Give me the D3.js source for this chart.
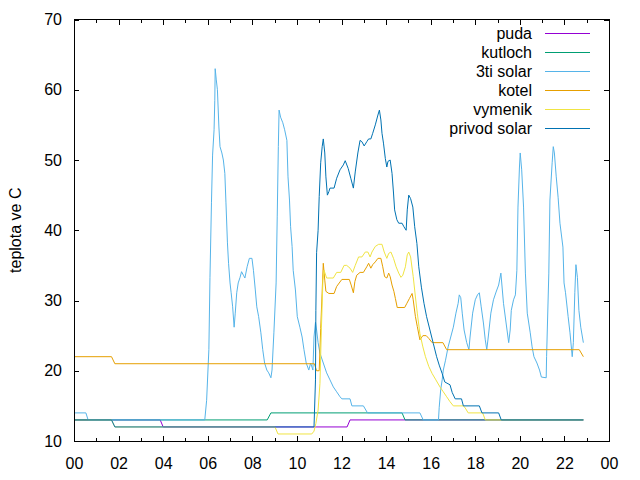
<!DOCTYPE html>
<html>
<head>
<meta charset="utf-8">
<script src="https://cdn.jsdelivr.net/npm/d3@7"></script>
<style>
body { margin: 0; background: #fff; }
text { font-family: "Liberation Sans", Arial, sans-serif; font-size: 16px; fill: #000; }
</style>
</head>
<body>
<div id="chart"></div>
<script>
// jmena serii (poradi = poradi kresleni)
const seriesNames = ["puda", "kutloch", "3ti solar", "kotel", "vymenik", "privod solar"];
const yTicks = [10, 20, 30, 40, 50, 60, 70];

// [cas, teplota]
const puda = [["00:00",13],["03:52",13],["04:00",12],["12:15",12],["12:23",13],["22:51",13]];

const kutloch = [["00:00",13],["08:40",13],["08:50",14],["14:43",14],["14:51",13],["22:51",13]];

const tretiSolar = [["00:00",14],["00:32",14],["00:38",13],["05:52",13],["05:57",15.8],["06:03",23],
  ["06:06",33.3],["06:10",43.9],["06:13",50.7],["06:17",54.3],["06:19",58.5],["06:20",63],["06:23",61.4],
  ["06:26",60],["06:30",54.7],["06:33",51.9],["06:38",51],["06:42",50],["06:46",48.1],["06:49",43.9],
  ["06:53",38.2],["06:56",35.3],["07:00",32.5],["07:03",31.1],["07:07",29.1],["07:11",26.2],["07:14",28.2],
  ["07:18",31.1],["07:22",32.5],["07:27",33.3],["07:31",34.1],["07:36",33.6],["07:40",33.2],["07:46",34.8],
  ["07:52",36],["07:59",36],["08:03",34.3],["08:08",31.5],["08:12",29.1],["08:17",27.7],["08:23",25.4],
  ["08:28",23],["08:33",21.1],["08:39",20.1],["08:44",19.7],["08:50",19],["08:53",20.1],["08:58",25.4],
  ["09:04",32.5],["09:07",41.9],["09:10",51.9],["09:12",57.1],["09:16",56.1],["09:22",55.3],["09:27",54.3],
  ["09:33",52.8],["09:36",47.6],["09:40",44.3],["09:43",40.5],["09:47",37.7],["09:50",34.3],["09:56",31.5],
  ["10:01",27.7],["10:08",26.2],["10:14",24.8],["10:19",23],["10:25",21.1],["10:32",20.1],["10:37",21.1],
  ["10:43",20.1],["10:46",24.8],["10:50",26.9],["10:53",25.8],["10:57",24],["11:02",22.5],["11:11",21.1],
  ["11:20",19.7],["11:29",18.7],["11:38",17.7],["11:47",17],["11:56",16.3],["12:01",16],["12:23",16],
  ["12:28",15],["12:59",15],["13:10",14],["15:31",14],["15:40",13],["16:21",13],["16:23",14.8],["16:27",17.3],
  ["16:31",18.7],["16:34",20.1],["16:40",21.5],["16:47",23.4],["16:54",24.8],["17:01",26.2],["17:08",28.2],
  ["17:14",29.6],["17:17",30.8],["17:21",30.4],["17:25",28.2],["17:30",25.8],["17:37",24],["17:43",23],
  ["17:46",24.8],["17:53",28.2],["18:00",30.1],["18:06",30.8],["18:11",31.1],["18:16",29.1],["18:22",26.8],
  ["18:27",24.4],["18:31",23],["18:35",24.8],["18:42",28.2],["18:49",30.1],["18:56",31.2],["19:03",32.2],
  ["19:09",33.9],["19:16",29.6],["19:23",26.8],["19:30",24],["19:34",25.8],["19:37",28.6],["19:43",30.1],
  ["19:48",30.8],["19:52",34.3],["19:55",43.3],["19:59",49],["20:01",51],["20:05",48.6],["20:10",43.3],
  ["20:15",33.9],["20:20",28.2],["20:28",25.4],["20:33",23.4],["20:38",22],["20:46",21.1],["20:53",20.1],
  ["20:58",19.1],["21:11",19],["21:12",22],["21:18",33.9],["21:21",44.3],["21:27",49.6],["21:30",51.9],
  ["21:33",51],["21:38",47.6],["21:43",44.7],["21:48",41],["21:56",37.6],["21:59",32.5],["22:03",31.1],
  ["22:10",27.7],["22:15",25.4],["22:21",22],["22:24",24],["22:28",31.1],["22:31",35.1],["22:35",33.3],
  ["22:39",28.6],["22:44",26.2],["22:51",24]];

const kotel = [["00:00",22],["01:41",22],["01:50",21],["10:47",21],["10:53",20],["11:00",20],["11:04",26],
  ["11:11",35.3],["11:15",32.9],["11:18",31.3],["11:26",31],["11:40",31],["11:47",32],["12:01",33],
  ["12:21",33],["12:26",32.2],["12:32",31.1],["12:36",32.7],["12:41",33.6],["12:50",34],["12:59",34],
  ["13:08",34.8],["13:13",35.3],["13:19",34.6],["13:24",35.1],["13:31",35.5],["13:38",36],["13:46",36],
  ["13:51",34.8],["13:56",33.4],["14:02",33.2],["14:07",33.9],["14:11",33.4],["14:16",32.2],["14:21",31.3],
  ["14:25",30.3],["14:30",29],["14:50",29],["14:56",29.6],["15:03",30.3],["15:10",31],["15:13",30.1],
  ["15:19",27.7],["15:24",26.3],["15:31",24.4],["15:39",25],["15:48",25],["15:55",24.6],["16:04",24],
  ["16:33",24],["16:43",23],["22:40",23],["22:51",22]];

const vymenik = [["00:00",13],["01:41",13],["01:50",12],["09:01",12],["09:09",11],["10:40",11],["10:46",11.4],
  ["10:51",12.5],["10:57",14.4],["11:02",18.2],["11:06",26.2],["11:10",32.9],["11:13",34.3],["11:20",33.2],
  ["11:38",33.2],["11:47",34],["11:58",34],["12:07",35],["12:14",35],["12:23",34.6],["12:30",34],
  ["12:37",35],["12:46",36.2],["12:55",36.2],["13:04",36.9],["13:11",36.9],["13:17",36.2],["13:22",36.9],
  ["13:31",37.7],["13:40",38],["13:49",38],["13:55",36.9],["14:02",36],["14:07",36.7],["14:13",36.9],
  ["14:20",36],["14:27",34.8],["14:34",33.9],["14:40",33.3],["14:45",33.6],["14:52",34.8],["14:57",36.5],
  ["15:01",36.9],["15:06",36.2],["15:13",33.4],["15:19",30.5],["15:24",28.2],["15:31",25.3],["15:39",23.4],
  ["15:46",22],["15:55",20.6],["16:04",19.6],["16:14",18.7],["16:25",17.7],["16:34",17],["16:43",16.3],
  ["16:52",15.6],["17:01",15],["17:28",15],["17:33",14.7],["17:41",14],["18:20",14],["18:27",13],["22:51",13]];

const privodSolar = [["00:00",13],["01:41",13],["01:50",12],["10:46",12],["10:50",18.7],["10:51",28.6],
  ["10:53",36.8],["10:57",40],["11:00",44.8],["11:04",49.6],["11:08",51.9],["11:11",53],["11:15",51],
  ["11:18",47.6],["11:22",45],["11:26",45.5],["11:29",46],["11:40",46],["11:47",47.4],["11:56",48.6],
  ["12:05",49.3],["12:10",49.9],["12:18",48.8],["12:25",47.4],["12:32",46],["12:37",48.3],["12:44",51],
  ["12:50",52.8],["12:55",52.6],["13:01",52],["13:08",52.6],["13:13",53],["13:19",53],["13:24",53.8],
  ["13:31",55],["13:38",56.4],["13:42",57.1],["13:46",55.7],["13:49",53.8],["13:53",52.4],["13:58",50.2],
  ["14:02",49],["14:05",49.8],["14:11",50],["14:16",48.1],["14:20",45.3],["14:23",42.9],["14:29",41.5],
  ["14:34",41],["14:43",41],["14:48",40.5],["14:54",40],["14:57",42.9],["15:01",45],["15:06",44.5],
  ["15:12",43.3],["15:17",40.5],["15:23",38.1],["15:28",34.8],["15:35",31.9],["15:42",29.6],["15:49",27.7],
  ["15:58",25.8],["16:07",23.9],["16:16",22],["16:23",20.8],["16:31",19.6],["16:38",18.4],["16:52",18],
  ["16:58",16.9],["17:06",16],["17:23",16],["17:28",15],["18:11",15],["18:18",14],["19:03",14],
  ["19:10",13],["22:51",13]];

const seriesData = [puda, kutloch, tretiSolar, kotel, vymenik, privodSolar];
const seriesColors = ["#9400d3", "#009e73", "#56b4e9", "#e69f00", "#f0e442", "#0072b2"];

const width = 640, height = 480;
const margin = {top: 19.5, right: 31, bottom: 39, left: 74};

const parseTime = d3.timeParse("%Y-%m-%d %H:%M");
const day0 = parseTime("2000-01-01 00:00");
const day1 = parseTime("2000-01-02 00:00");

const svg = d3.select("#chart").append("svg")
  .attr("width", width)
  .attr("height", height);

const X = d3.scaleTime()
  .domain([day0, day1])
  .range([margin.left, width - margin.right]);

const Y = d3.scaleLinear()
  .domain([10, 70])
  .range([height - margin.bottom, margin.top]);

// cary
const line = d3.line()
  .x(d => X(parseTime("2000-01-01 " + d[0])))
  .y(d => Y(d[1]));

svg.append("g")
  .selectAll("path")
  .data(seriesData)
  .join("path")
  .attr("fill", "none")
  .attr("stroke", (d, i) => seriesColors[i])
  .attr("stroke-width", 1)
  .attr("d", line);

// osy
const hourTicks = d3.timeHour.every(2).range(day0, d3.timeMinute.offset(day1, 1));
const minorTicks = d3.timeHour.every(1).range(day0, day1).filter(d => d.getHours() % 2 == 1);

const xBottom = d3.axisBottom(X).tickValues(hourTicks).tickFormat(d3.timeFormat("%H"))
  .tickSizeInner(-5).tickSizeOuter(0).tickPadding(17);
const xTop = d3.axisTop(X).tickValues(hourTicks).tickFormat("")
  .tickSizeInner(-5).tickSizeOuter(0);
const xBottomMinor = d3.axisBottom(X).tickValues(minorTicks).tickFormat("")
  .tickSizeInner(-3).tickSizeOuter(0);
const xTopMinor = d3.axisTop(X).tickValues(minorTicks).tickFormat("")
  .tickSizeInner(-3).tickSizeOuter(0);
const yLeft = d3.axisLeft(Y).tickValues(yTicks)
  .tickSizeInner(-5).tickSizeOuter(0).tickPadding(12);
const yRight = d3.axisRight(Y).tickValues(yTicks).tickFormat("")
  .tickSizeInner(-5).tickSizeOuter(0);

const yb = height - margin.bottom, yt = margin.top;
const xl = margin.left, xr = width - margin.right;

[[xBottom, `translate(0,${yb})`], [xBottomMinor, `translate(0,${yb})`],
 [xTop, `translate(0,${yt})`], [xTopMinor, `translate(0,${yt})`],
 [yLeft, `translate(${xl},0)`], [yRight, `translate(${xr},0)`]].forEach(a => {
  const g = svg.append("g").attr("transform", a[1]).call(a[0]);
  g.select(".domain").remove();
  g.selectAll("line").attr("stroke", "#000").attr("shape-rendering", "crispEdges");
  g.selectAll("text").attr("font-size", 16).attr("font-family", null).attr("fill", "#000");
});

// ramecek
svg.append("rect")
  .attr("x", xl).attr("y", yt)
  .attr("width", xr - xl).attr("height", yb - yt)
  .attr("fill", "none")
  .attr("stroke", "#000")
  .attr("shape-rendering", "crispEdges");

// popisek osy y
svg.append("text")
  .attr("transform", `translate(21,${(yt + yb) / 2}) rotate(-90)`)
  .attr("text-anchor", "middle")
  .text("teplota ve C");

// legenda
const legend = svg.append("g").selectAll("g")
  .data(seriesNames)
  .join("g")
  .attr("transform", (d, i) => `translate(0,${33.5 + i * 19})`);

legend.append("text")
  .attr("x", 532)
  .attr("dy", "0.35em")
  .attr("text-anchor", "end")
  .text(d => d);

legend.append("line")
  .attr("x1", 545).attr("x2", 590)
  .attr("stroke", (d, i) => seriesColors[i])
  .attr("stroke-width", 1);
</script>
</body>
</html>
